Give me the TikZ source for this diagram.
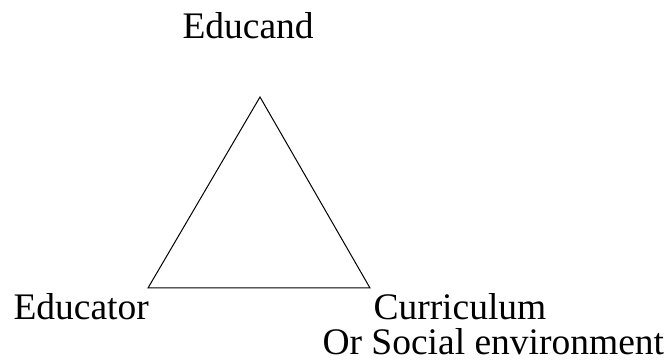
\documentclass[tikz,border=0pt]{standalone}
\usepackage{fontspec}
\setmainfont{Liberation Serif}
\begin{document}
\begin{tikzpicture}[x=1pt,y=1pt,line width=1pt,every node/.style={inner sep=0pt,anchor=base west,font=\fontsize{37.5}{45}\selectfont}]
\useasboundingbox (0,0) rectangle (666,363);
\coordinate (top) at (260,266);
\coordinate (left) at (148,75);
\coordinate (right) at (370,75);
\draw (top) -- (left) -- (right) -- cycle;
\node (educand) at (182,324) {Educand};
\node (educator) at (13,43) {Educator};
\node (curriculum) at (373,43) {Curriculum};
\node (social) at (322,8) {Or Social environment};
\end{tikzpicture}
\end{document}
